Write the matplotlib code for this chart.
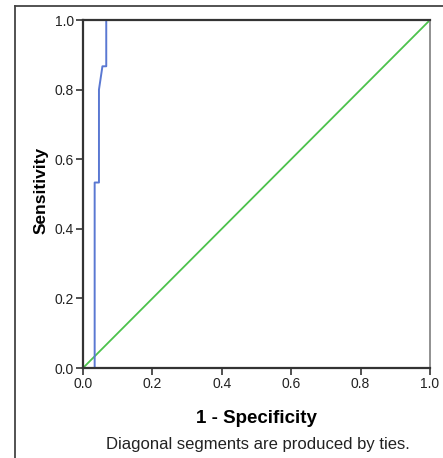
import matplotlib
matplotlib.use("Agg")
import matplotlib.pyplot as plt
from matplotlib.lines import Line2D

# ROC curve
fpr = [0.0, 0.0336, 0.0336, 0.046, 0.046, 0.056, 0.067, 0.067, 1.0]
tpr = [0.0, 0.0, 0.533, 0.533, 0.8, 0.867, 0.867, 1.0, 1.0]
ref_line = [0.0, 1.0]
ticks = [0.0, 0.2, 0.4, 0.6, 0.8, 1.0]
tick_labels = ["0.0", "0.2", "0.4", "0.6", "0.8", "1.0"]

plt.rcParams["font.family"] = ["Liberation Sans", "DejaVu Sans"]

W, H = 443, 458
fig = plt.figure(figsize=(W / 100, H / 100), dpi=100)
ax = fig.add_axes([83 / W, 1 - 368 / H, (430 - 83) / W, (368 - 20) / H])

ax.plot(ref_line, ref_line, color="#4cc24c", linewidth=1.3, zorder=1)
ax.plot(fpr, tpr, color="#5a78d2", linewidth=1.4, zorder=1)

ax.set_xlim(0, 1)
ax.set_ylim(0, 1)
ax.set_xticks(ticks)
ax.set_xticklabels(tick_labels)
ax.set_yticks(ticks)
ax.set_yticklabels(tick_labels)
ax.tick_params(direction="out", length=5, width=1.2, color="#333333",
               labelsize=10, labelcolor="#222222", pad=1.5)

for side in ["left", "bottom", "top"]:
    ax.spines[side].set_color("#333333")
    ax.spines[side].set_linewidth(1.6)
    ax.spines[side].set_zorder(5)
ax.spines["right"].set_color("#888888")
ax.spines["right"].set_linewidth(1.3)

# axis titles placed like the SPSS output
fig.text(41 / W, 1 - 190 / H, "Sensitivity", rotation=90, ha="center", va="center",
         fontsize=12.5, fontweight="bold")
fig.text(256 / W, 1 - 423 / H, "1 - Specificity", ha="center", va="baseline",
         fontsize=13.5, fontweight="bold")
fig.text(258 / W, 1 - 449 / H, "Diagonal segments are produced by ties.",
         ha="center", va="baseline", fontsize=12, color="#222222")

# outer frame
fig.add_artist(Line2D([15 / W, 15 / W], [0, 1 - 6 / H], transform=fig.transFigure,
                      color="#444444", linewidth=1.3))
fig.add_artist(Line2D([15 / W, 1], [1 - 6 / H, 1 - 6 / H], transform=fig.transFigure,
                      color="#444444", linewidth=1.3))

fig.savefig("out.png", dpi=100)
